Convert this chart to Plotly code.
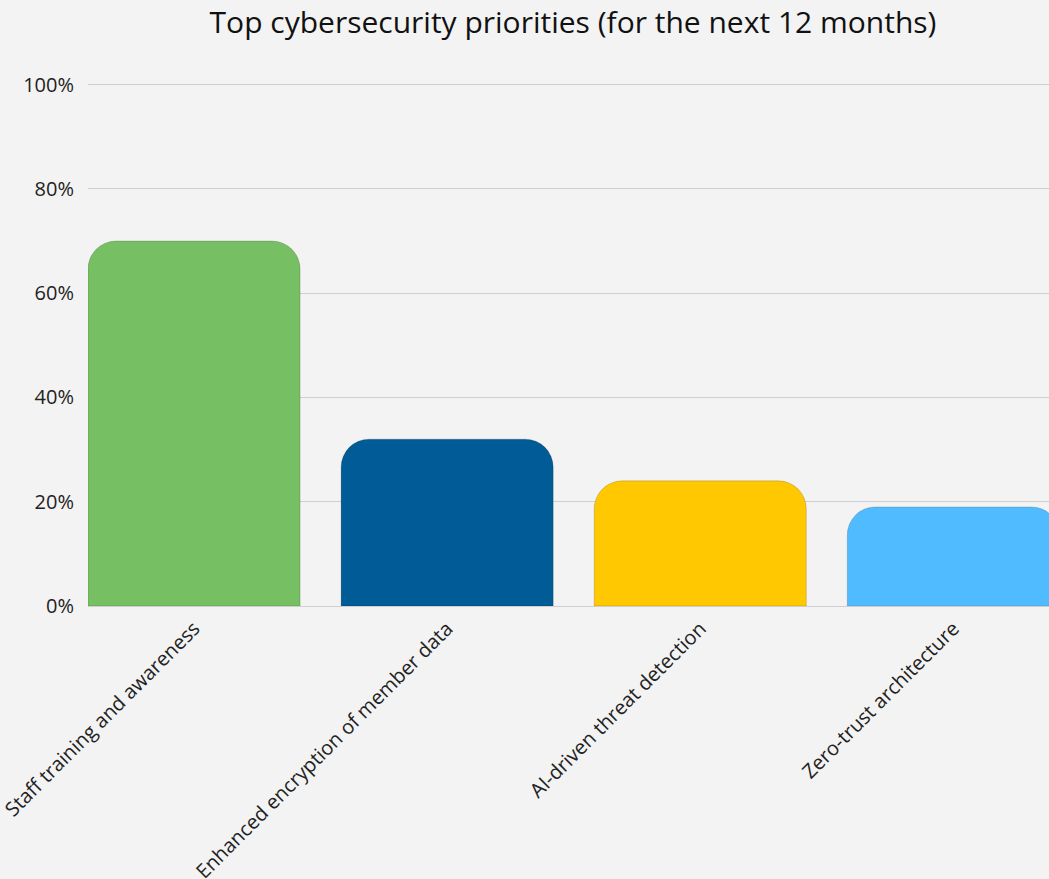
import plotly.graph_objects as go

# Survey results: share of respondents naming each priority
categories = [
    "Staff training and awareness",
    "Enhanced encryption of member data",
    "AI-driven threat detection",
    "Zero-trust architecture",
]
values = [70, 32, 24, 19]
bar_colors = ["#76BF62", "#005B96", "#FFC800", "#50BBFF"]
y_ticks = [0, 20, 40, 60, 80, 100]
y_tick_labels = ["0%", "20%", "40%", "60%", "80%", "100%"]

FONT = "'Open Sans', Roboto, sans-serif"
BG = "#F3F3F3"

fig = go.Figure(
    go.Bar(
        x=categories,
        y=values,
        marker=dict(color=bar_colors, line=dict(color="rgba(0,0,0,0.15)", width=1)),
        hoverinfo="x+y",
    )
)

fig.update_layout(
    width=1049,
    height=879,
    paper_bgcolor=BG,
    plot_bgcolor=BG,
    margin=dict(l=88, r=0, t=82, b=273),
    bargap=0.162,
    barcornerradius=28,
    showlegend=False,
    font=dict(family=FONT, color="#222222", size=20),
    title=dict(
        text="Top cybersecurity priorities (for the next 12 months)",
        font=dict(family=FONT, size=30, color="#111111"),
        xref="paper",
        x=0.5047,
        xanchor="center",
        y=0.974,
        yanchor="middle",
    ),
)

fig.update_xaxes(
    range=[-0.419, 3.378],
    automargin=False,
    tickangle=-45,
    showgrid=False,
    zeroline=False,
    showline=False,
    ticks="",
    ticklabelstandoff=6,
    tickfont=dict(size=20, color="#222222"),
)

fig.update_yaxes(
    range=[0, 100.5],
    automargin=False,
    tickvals=y_ticks,
    ticktext=y_tick_labels,
    showgrid=True,
    gridcolor="#CFCFCF",
    gridwidth=1,
    zeroline=True,
    zerolinecolor="#CFCFCF",
    zerolinewidth=1,
    showline=False,
    ticks="",
    ticklabelstandoff=13,
    tickfont=dict(size=20, color="#222222"),
)

fig.write_html("out.html")
